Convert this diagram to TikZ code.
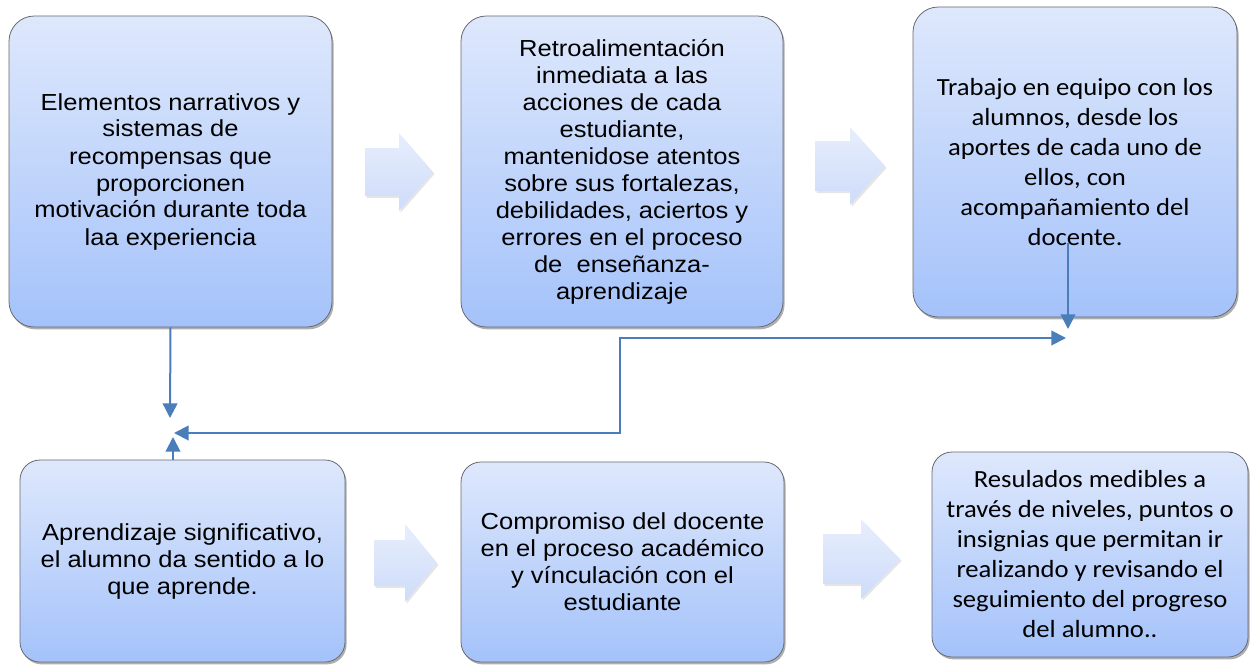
\documentclass[tikz,border=0pt]{standalone}
\usepackage{fontspec}
\usetikzlibrary{arrows.meta,shadows}
\newfontfamily\arialf[FakeStretch=1.1]{Liberation Sans}
\newfontfamily\calf[FakeStretch=1.08]{Carlito}
\definecolor{boxtop}{RGB}{222,232,252}
\definecolor{boxbot}{RGB}{164,194,250}
\definecolor{boxedge}{RGB}{105,105,112}
\definecolor{conncol}{RGB}{74,126,187}
\definecolor{bartop}{RGB}{231,238,252}
\definecolor{barbot}{RGB}{206,220,250}
\begin{document}
\begin{tikzpicture}[x=0.75pt,y=-0.75pt,
  stagebox/.style={rectangle, rounded corners=19pt, draw=boxedge, line width=0.6pt,
    top color=boxtop, bottom color=boxbot,
    drop shadow={shadow xshift=1.2pt, shadow yshift=-1.8pt, opacity=0.45, fill=black!70},
    align=center, inner sep=0pt, text=black},
  lowbox/.style={stagebox, rounded corners=15pt},
  arialtxt/.style={font=\arialf\fontsize{17.4}{20.25}\selectfont},
  caltxt/.style={font=\calf\fontsize{18.5}{22.5}\selectfont},
  tipstyle/.tip={Triangle[width=11pt,length=11pt]},
  conn/.style={draw=conncol, line width=1.5pt, -tipstyle},
  biconn/.style={draw=conncol, line width=1.5pt, tipstyle-tipstyle},
  bararrow/.style={top color=bartop, bottom color=barbot, draw=none},
  barshadow/.style={fill=black, opacity=0.10}
]
\useasboundingbox (0,0) rectangle (1253,667);

% stage boxes
\node[stagebox, arialtxt, minimum width=242.25pt, minimum height=233.25pt] (b1) at (170.5,171.5)
  {Elementos narrativos y\\sistemas de\\recompensas que\\proporcionen\\motivación durante toda\\laa experiencia};
\node[stagebox, arialtxt, minimum width=241.5pt, minimum height=233.25pt] (b2) at (622,171.5)
  {Retroalimentación\\inmediata a las\\acciones de cada\\estudiante,\\mantenidose atentos\\sobre sus fortalezas,\\debilidades, aciertos y\\errores en el proceso\\de\ \ enseñanza-\\aprendizaje};
\node[stagebox, caltxt, minimum width=243pt, minimum height=232.5pt] (b3) at (1075,162)
  {Trabajo en equipo con los\\alumnos, desde los\\aportes de cada uno de\\ellos, con\\acompañamiento del\\docente.};
\node[lowbox, arialtxt, minimum width=243.75pt, minimum height=151.5pt] (b4) at (182.5,561)
  {Aprendizaje significativo,\\el alumno da sentido a lo\\que aprende.};
\node[lowbox, arialtxt, minimum width=242.25pt, minimum height=150pt] (b5) at (622.5,562)
  {Compromiso del docente\\en el proceso académico\\y vínculación con el\\estudiante};
\node[lowbox, caltxt, minimum width=237pt, minimum height=153.75pt] (b6) at (1090,554.5)
  {Resulados medibles a\\través de niveles, puntos o\\insignias que permitan ir\\realizando y revisando el\\seguimiento del progreso\\del alumno..};

% block arrows between stages
\foreach \sx/\nx/\tx/\cy/\sh/\hh in {365/399/433/172/24/39, 815/850/885/166/25/39,
                                      374/405/437/563/23/39, 823/861/900/559/25/40}{
  \fill[barshadow] (\sx+1.5,\cy-\sh+2) -- (\nx+1.5,\cy-\sh+2) -- (\nx+1.5,\cy-\hh+2) -- (\tx+1.5,\cy+2)
     -- (\nx+1.5,\cy+\hh+2) -- (\nx+1.5,\cy+\sh+2) -- (\sx+1.5,\cy+\sh+2) -- cycle;
  \shade[bararrow] (\sx,\cy-\sh) -- (\nx,\cy-\sh) -- (\nx,\cy-\hh) -- (\tx,\cy)
     -- (\nx,\cy+\hh) -- (\nx,\cy+\sh) -- (\sx,\cy+\sh) -- cycle;
}

% connectors
\coordinate (j1) at (170,418);
\coordinate (j2) at (173,437);
\coordinate (j3) at (174,433);
\coordinate (k1) at (620,433);
\coordinate (k2) at (620,338);
\coordinate (j4) at (1066,338);
\coordinate (j5) at (1068,243);
\coordinate (j6) at (1068,329);

\draw[conn] (b1.south) -- (j1);
\draw[conn] (b4.north -| j2) -- (j2);
\draw[biconn] (j3) -- (k1) -- (k2) -- (j4);
\draw[conn] (j5) -- (j6);
\end{tikzpicture}
\end{document}
